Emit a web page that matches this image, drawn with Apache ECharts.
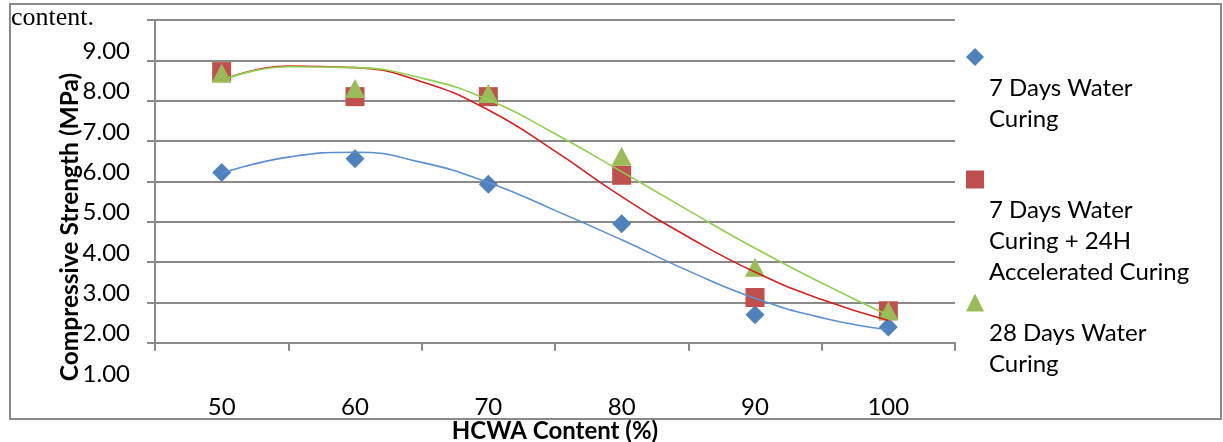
<!DOCTYPE html>
<html><head><meta charset="utf-8">
<script src="https://cdn.jsdelivr.net/npm/echarts@6/dist/echarts.min.js"></script>
<style>html,body{margin:0;padding:0;background:#fff}#c{width:1223px;height:442px}</style>
</head><body><div id="c"></div>
<script>
// ---- data ----
const categories = ['50', '60', '70', '80', '90', '100'];
const hcwa = [50, 60, 70, 80, 90, 100];
const water7 = [6.22, 6.56, 5.93, 4.95, 2.69, 2.39];
const water7Accel = [8.72, 8.10, 8.10, 6.15, 3.12, 2.79];
const water28 = [8.68, 8.30, 8.18, 6.62, 3.87, 2.79];
// trendline values
const trendX = [50, 55, 60, 65, 70, 75, 80, 85, 90, 95, 100];
const trend7 = [6.20, 6.60, 6.72, 6.47, 5.97, 5.28, 4.55, 3.78, 3.10, 2.62, 2.32];
const trend7Accel = [8.50, 8.86, 8.82, 8.47, 7.77, 6.75, 5.62, 4.62, 3.75, 3.07, 2.55];
const trend28 = [8.50, 8.84, 8.82, 8.56, 8.02, 7.18, 6.24, 5.28, 4.34, 3.48, 2.68];
const seriesNames = ['7 Days Water Curing', '7 Days Water Curing + 24H Accelerated Curing', '28 Days Water Curing'];
const legendLines = [['7 Days Water', 'Curing'], ['7 Days Water', 'Curing + 24H', 'Accelerated Curing'], ['28 Days Water', 'Curing']];
const yTitle = 'Compressive Strength (MPa)';
const xTitle = 'HCWA Content (%)';
const pageText = 'content.';

// ---- styling ----
const FONT = 'Lato';
const GRAY = '#8a8a8a';
const markerColors = ['#4F81BD', '#C0504D', '#9BBB59'];
const trendColors = ['#5b8fd2', '#d42020', '#8fd14f'];
const symbols = ['diamond', 'rect', 'triangle'];
const symbolSizes = [19, 19, [20, 19]];

const pair = (xs, ys) => xs.map((x, i) => [x, ys[i]]);
const pts = [water7, water7Accel, water28];
const trends = [trend7, trend7Accel, trend28];

const chart = echarts.init(document.getElementById('c'), null, {renderer: 'canvas'});

const series = [];
pts.forEach((d, i) => series.push({
  name: seriesNames[i], type: 'scatter', xAxisIndex: 2, yAxisIndex: 0,
  data: pair(hcwa, d), symbol: symbols[i], symbolSize: symbolSizes[i],
  itemStyle: {color: markerColors[i], opacity: 1}, z: 2 + i
}));
trends.forEach((d, i) => series.push({
  name: seriesNames[i] + ' trend', type: 'line', xAxisIndex: 2, yAxisIndex: 0,
  data: pair(trendX, d), smooth: true, showSymbol: false, symbol: 'none', silent: true,
  lineStyle: {color: trendColors[i], width: 1.6}, z: 6
}));

const legendRowH = 31;
const legendIconY = [57, 179.5, 302.5];
const legends = legendLines.map((lines, i) => {
  const rows = lines.length * 2 + 1;
  const pre = '\n'.repeat(lines.length + 1);
  return {
    data: [seriesNames[i]], orient: 'vertical', left: 966,
    top: legendIconY[i] - rows * legendRowH / 2, padding: 0,
    itemWidth: 18, itemHeight: 18, icon: symbols[i], selectedMode: false,
    formatter: () => pre + lines.join('\n'),
    textStyle: {fontFamily: FONT, fontSize: 24, color: '#000', lineHeight: legendRowH}
  };
});

chart.setOption({
  animation: false,
  backgroundColor: '#fff',
  grid: [
    {left: 155, width: 800, top: 20, height: 363, outerBoundsMode: 'none', containLabel: false},
    {left: 155, width: 800, top: 20, height: 322.67, outerBoundsMode: 'none', containLabel: false}
  ],
  xAxis: [
    {type: 'category', gridIndex: 0, data: categories, boundaryGap: true,
     axisLine: {show: false}, axisTick: {show: false}, splitLine: {show: false},
     axisLabel: {fontFamily: FONT, fontSize: 24, color: '#000', margin: 12, lineHeight: 24},
     name: xTitle, nameLocation: 'middle', nameGap: 36, nameMoveOverlap: false,
     nameTextStyle: {fontFamily: FONT, fontSize: 24, fontWeight: 'bold', color: '#000'}},
    {type: 'category', gridIndex: 1, data: categories, boundaryGap: true,
     axisLine: {show: true, onZero: false, lineStyle: {color: GRAY, width: 2}},
     axisTick: {show: true, length: 8, lineStyle: {color: GRAY, width: 2}},
     axisLabel: {show: false}, splitLine: {show: false}},
    {type: 'value', gridIndex: 0, min: 45, max: 105, show: false}
  ],
  yAxis: [
    {type: 'value', gridIndex: 0, min: 1, max: 10, interval: 1,
     axisLine: {show: false}, axisTick: {show: false},
     splitLine: {show: true, showMinLine: false, lineStyle: {color: GRAY, width: 2}},
     axisLabel: {fontFamily: FONT, fontSize: 24, color: '#000', margin: 25,
       verticalAlign: 'bottom', lineHeight: 18,
       formatter: v => v >= 10 ? '' : v.toFixed(2)},
     name: yTitle, nameLocation: 'middle', nameGap: 72, nameRotate: 90, nameMoveOverlap: false,
     nameTextStyle: {fontFamily: FONT, fontSize: 24.5, fontWeight: 'bold', color: '#000', padding: [0, 51, 0, 0]}},
    {type: 'value', gridIndex: 1, min: 2, max: 10, interval: 1,
     axisLine: {show: true, lineStyle: {color: GRAY, width: 2}},
     axisTick: {show: true, length: 8, lineStyle: {color: GRAY, width: 2}},
     axisLabel: {show: false}, splitLine: {show: false}}
  ],
  legend: legends,
  graphic: [
    {type: 'rect', shape: {x: 10, y: 4, width: 1211, height: 415}, silent: true,
     style: {fill: 'none', stroke: GRAY, lineWidth: 2}, z: -1},
    {type: 'text', x: 11, y: 18, silent: true,
     style: {text: pageText, font: '26px "Liberation Serif"', fill: '#000', verticalAlign: 'middle'}}
  ],
  series: series
});
</script></body></html>
